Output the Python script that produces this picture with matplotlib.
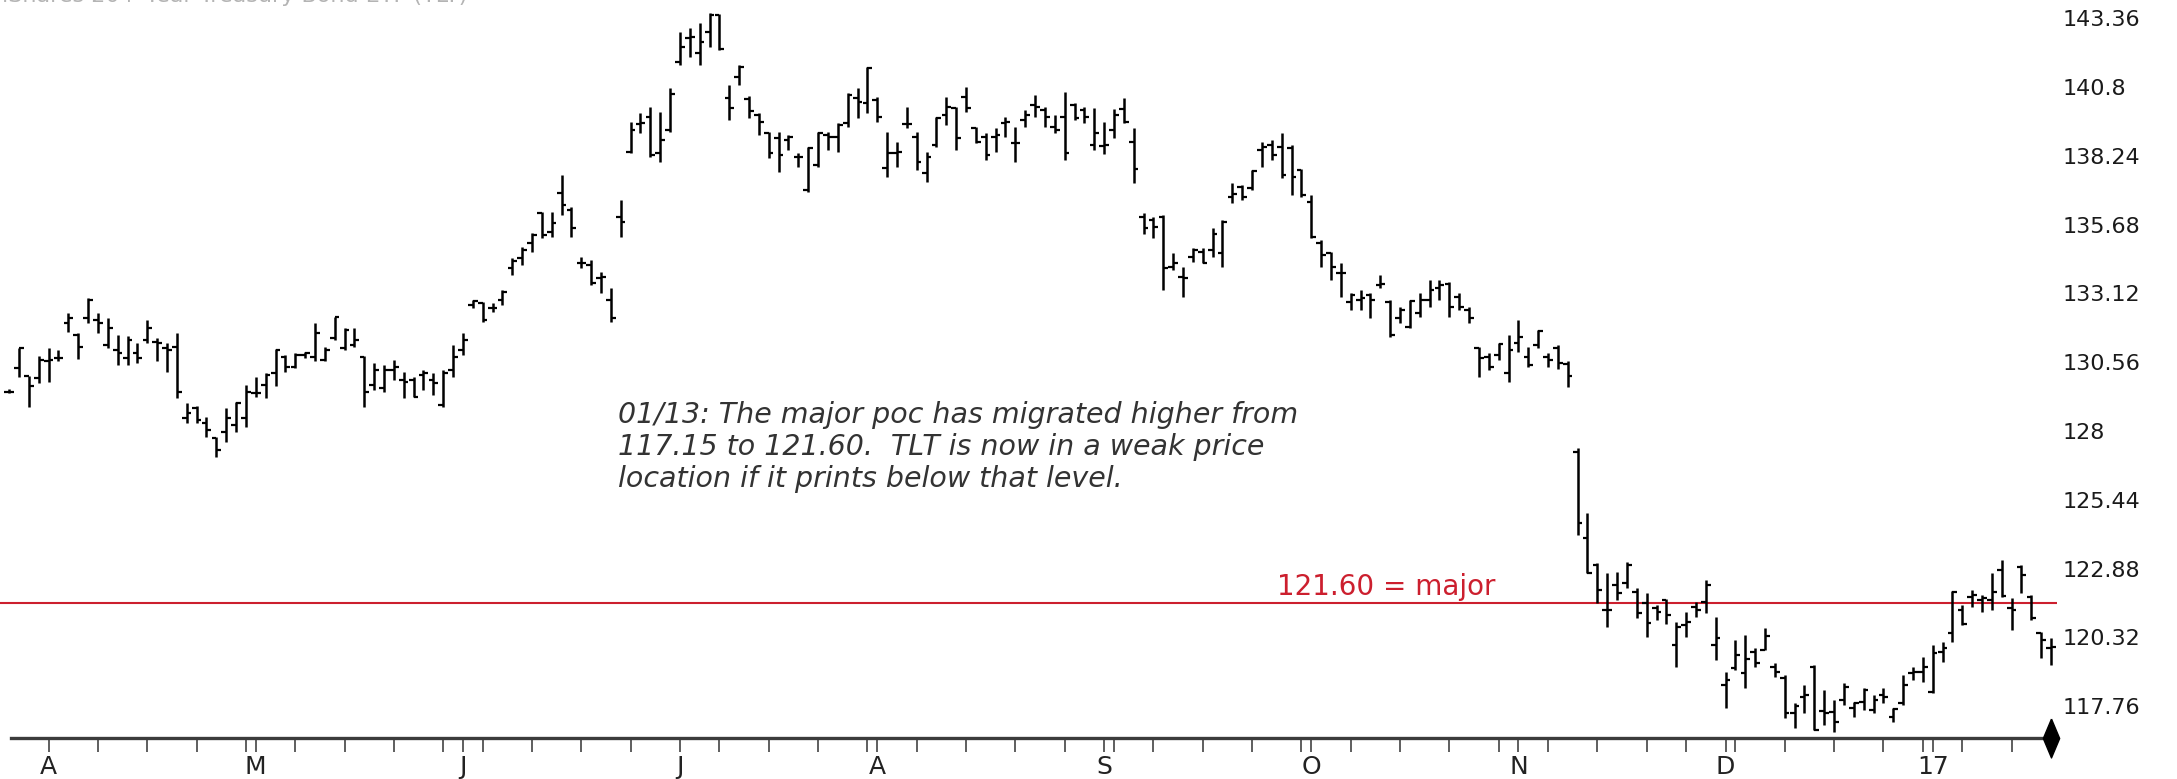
import matplotlib
matplotlib.use("Agg")
import matplotlib.pyplot as plt
import numpy as np
import pandas as pd
from matplotlib import font_manager

# ---------------------------------------------------------------------------
# TLT daily bars, 28 Mar 2016 - 20 Jan 2017
# ---------------------------------------------------------------------------
HOLIDAYS = ["2016-05-30", "2016-07-04", "2016-09-05", "2016-11-24",
            "2016-12-26", "2017-01-02", "2017-01-16"]
START, END = "2016-03-28", "2017-01-20"

HIGHS = [129.55, 131.08, 130.05, 130.80, 131.08, 131.02, 132.38, 131.64, 132.94, 132.38,
         132.20, 131.58, 131.54, 131.27, 132.14, 131.45, 131.27, 131.64, 129.03, 128.94,
         128.54, 127.79, 128.85, 129.10, 129.72, 130.03, 130.15, 131.04, 130.83, 130.90,
         130.96, 132.01, 131.14, 132.26, 131.83, 131.83, 130.80, 130.52, 130.46, 130.65,
         130.21, 130.03, 130.27, 130.15, 130.27, 131.21, 131.64, 132.88, 132.82, 132.75,
         133.25, 134.43, 134.86, 135.36, 136.17, 136.17, 137.53, 136.35, 134.49, 134.37,
         133.93, 133.31, 136.60, 139.51, 139.82, 140.07, 139.89, 140.75, 142.86, 142.99,
         143.17, 143.54, 143.52, 140.88, 141.62, 140.45, 139.82, 139.14, 139.14, 139.02,
         138.33, 138.58, 139.14, 139.14, 139.45, 140.57, 140.75, 141.56, 140.44, 139.14,
         138.77, 140.07, 139.14, 138.40, 139.70, 140.44, 140.07, 140.82, 139.33, 139.08,
         139.27, 139.70, 139.33, 139.95, 140.51, 140.07, 139.76, 140.63, 140.19, 140.07,
         140.01, 139.50, 140.00, 140.38, 139.26, 136.10, 135.97, 136.04, 134.61, 134.11,
         134.80, 134.80, 135.54, 135.85, 137.22, 137.15, 137.71, 138.77, 138.83, 139.08,
         138.64, 137.77, 136.78, 135.11, 134.67, 134.24, 133.12, 133.25, 133.12, 133.80,
         132.87, 132.63, 132.87, 133.12, 133.62, 133.62, 133.56, 133.12, 132.63, 131.12,
         130.89, 131.27, 131.58, 132.13, 131.14, 131.76, 130.89, 131.20, 130.60, 127.36,
         124.94, 123.08, 122.71, 122.77, 123.14, 122.15, 121.96, 121.53, 121.77, 120.91,
         121.28, 121.65, 122.46, 121.09, 119.05, 120.22, 120.41, 119.92, 120.66, 119.36,
         118.92, 117.87, 118.55, 119.29, 118.37, 117.99, 118.61, 117.93, 118.43, 118.18,
         118.43, 117.68, 118.92, 119.23, 119.61, 120.04, 120.16, 122.06, 121.53, 122.08,
         121.90, 122.71, 123.20, 121.78, 123.02, 121.90, 120.54, 120.29]

LOWS = [129.40, 130.03, 128.91, 129.78, 129.84, 130.59, 131.70, 130.67, 132.01, 131.64,
        131.08, 130.46, 130.46, 130.52, 131.27, 130.59, 130.21, 129.22, 128.29, 128.29,
        127.79, 127.05, 127.61, 127.98, 128.17, 129.28, 129.22, 129.66, 130.21, 130.34,
        130.71, 130.59, 130.59, 131.39, 131.02, 131.14, 128.91, 129.53, 129.47, 129.90,
        129.22, 129.28, 129.53, 129.34, 128.91, 130.03, 130.83, 132.57, 132.07, 132.44,
        132.69, 133.81, 134.18, 134.68, 135.17, 135.24, 136.04, 135.24, 134.06, 133.44,
        133.13, 132.07, 135.24, 138.33, 139.08, 138.21, 138.02, 139.14, 141.62, 141.93,
        141.62, 142.30, 142.18, 139.57, 140.88, 139.65, 139.02, 138.15, 137.65, 138.46,
        137.84, 136.91, 137.84, 138.46, 138.40, 139.33, 139.64, 139.82, 139.51, 137.47,
        137.84, 139.27, 137.71, 137.28, 138.58, 139.39, 138.46, 139.89, 138.71, 138.09,
        138.40, 138.96, 138.02, 139.33, 139.70, 139.33, 139.08, 138.09, 139.57, 139.45,
        138.46, 138.30, 138.90, 139.45, 137.22, 135.35, 135.17, 133.25, 133.99, 133.00,
        134.30, 134.24, 134.49, 134.11, 136.47, 136.59, 136.97, 137.84, 138.08, 137.40,
        136.78, 136.72, 135.17, 134.11, 133.62, 133.00, 132.50, 132.50, 132.19, 133.31,
        131.51, 132.01, 131.82, 132.25, 132.63, 132.87, 132.25, 132.50, 132.01, 130.02,
        130.27, 130.65, 129.84, 130.96, 130.40, 131.08, 130.40, 130.30, 129.65, 124.13,
        122.71, 121.59, 120.72, 121.71, 122.15, 121.03, 120.35, 120.97, 120.84, 119.23,
        120.35, 121.09, 121.22, 119.48, 117.68, 119.11, 118.43, 119.23, 119.85, 118.86,
        117.31, 116.94, 117.50, 116.88, 117.06, 116.81, 117.81, 117.37, 117.62, 117.50,
        117.87, 117.19, 117.81, 118.74, 118.67, 118.24, 119.42, 120.16, 120.78, 121.46,
        121.28, 121.34, 121.84, 120.60, 121.96, 120.97, 119.54, 119.30]

OPENS = [129.47, 130.34, 130.05, 129.97, 130.59, 130.71, 132.01, 131.58, 132.20, 132.14,
         131.21, 131.02, 130.71, 130.90, 131.39, 131.33, 131.08, 131.14, 128.48, 128.85,
         128.29, 127.73, 127.98, 128.23, 128.48, 129.41, 129.72, 130.15, 130.77, 130.40,
         130.83, 130.77, 130.65, 131.45, 131.08, 131.21, 130.77, 129.72, 129.59, 130.27,
         129.90, 129.90, 130.09, 129.90, 128.97, 130.27, 131.02, 132.69, 132.75, 132.57,
         132.88, 134.06, 134.43, 134.99, 136.10, 135.42, 136.85, 136.23, 134.24, 134.18,
         133.69, 132.88, 135.98, 138.40, 139.43, 139.70, 138.33, 139.20, 141.75, 142.61,
         142.06, 142.86, 143.48, 140.38, 141.19, 140.35, 139.76, 139.08, 138.89, 138.83,
         138.21, 136.97, 137.90, 139.02, 138.96, 139.45, 140.38, 140.19, 140.32, 137.78,
         138.33, 139.43, 138.96, 137.59, 138.65, 139.76, 140.01, 140.44, 139.27, 138.96,
         138.96, 139.45, 138.71, 139.57, 140.13, 139.95, 139.33, 139.70, 140.13, 139.95,
         138.65, 138.60, 139.20, 140.00, 138.77, 135.97, 135.85, 135.97, 134.11, 133.74,
         134.49, 134.67, 134.73, 134.61, 136.72, 137.09, 137.03, 138.46, 138.64, 138.58,
         138.52, 137.71, 136.53, 134.98, 134.61, 133.87, 132.81, 132.87, 133.06, 133.43,
         132.81, 132.19, 131.88, 132.38, 132.87, 133.31, 133.49, 133.00, 132.50, 131.08,
         130.77, 130.83, 130.15, 131.27, 130.77, 131.20, 130.77, 131.08, 130.50, 127.23,
         124.01, 123.01, 121.34, 122.27, 122.33, 122.02, 121.59, 121.40, 121.71, 120.04,
         120.78, 121.46, 121.65, 120.04, 118.55, 119.17, 118.98, 119.79, 119.85, 119.23,
         118.80, 117.50, 118.12, 119.23, 117.60, 117.56, 117.99, 117.68, 117.93, 117.62,
         118.18, 117.37, 117.87, 118.98, 119.05, 118.30, 119.79, 120.47, 121.34, 121.84,
         121.71, 121.71, 122.83, 121.40, 122.95, 121.81, 120.47, 119.92]

CLOSES = [129.47, 131.08, 129.68, 130.65, 130.65, 130.71, 132.20, 131.14, 132.88, 132.01,
          131.83, 130.90, 131.39, 130.71, 131.83, 131.27, 131.02, 129.47, 128.69, 128.41,
          128.04, 127.30, 128.48, 129.03, 129.47, 129.41, 130.09, 131.02, 130.40, 130.83,
          130.90, 131.64, 131.02, 132.26, 131.76, 131.39, 129.47, 130.27, 130.27, 130.40,
          129.84, 129.28, 130.15, 129.78, 130.15, 130.77, 131.39, 132.85, 132.13, 132.57,
          133.19, 134.31, 134.74, 135.30, 135.30, 135.73, 136.41, 135.55, 134.24, 133.50,
          133.75, 132.20, 135.79, 139.20, 139.45, 138.27, 138.83, 140.54, 142.30, 142.68,
          142.49, 143.48, 142.20, 140.01, 141.56, 139.90, 139.51, 138.34, 138.27, 138.93,
          138.21, 138.52, 139.08, 138.96, 139.39, 140.51, 140.26, 141.50, 139.70, 138.33,
          138.40, 139.43, 138.02, 138.21, 139.64, 140.07, 138.89, 140.01, 138.77, 138.27,
          139.02, 139.51, 138.71, 139.76, 140.07, 139.70, 139.20, 138.33, 139.64, 139.70,
          139.08, 138.65, 139.75, 139.51, 137.77, 135.54, 135.60, 134.05, 134.24, 133.68,
          134.73, 134.26, 135.35, 135.79, 136.84, 136.72, 137.69, 138.58, 138.27, 137.53,
          137.46, 136.78, 135.23, 134.55, 134.11, 133.87, 133.06, 132.94, 132.87, 133.49,
          131.57, 132.50, 132.85, 132.87, 133.25, 133.43, 132.63, 132.63, 132.19, 130.71,
          130.40, 131.24, 131.02, 131.51, 130.46, 131.74, 130.65, 130.55, 130.05, 124.57,
          122.71, 122.08, 121.34, 121.96, 123.01, 121.22, 120.87, 121.28, 121.15, 120.72,
          120.91, 121.34, 122.27, 120.29, 118.74, 119.67, 119.51, 119.36, 120.37, 119.05,
          117.50, 117.77, 118.18, 116.88, 117.50, 117.19, 118.49, 117.87, 118.36, 117.99,
          118.12, 117.65, 118.55, 119.05, 119.23, 119.73, 119.92, 122.02, 120.82, 121.90,
          121.78, 122.02, 121.86, 121.34, 122.64, 121.03, 120.22, 119.98]

PRICE_TICKS = [117.76, 120.32, 122.88, 125.44, 128.0, 130.56,
               133.12, 135.68, 138.24, 140.8, 143.36]
MONTH_LETTERS = "JFMAMJJASOND"

POC_LEVEL = 121.60
POC_LABEL = "121.60 = major"
NOTE = ("01/13: The major poc has migrated higher from\n"
        "117.15 to 121.60.  TLT is now in a weak price\n"
        "location if it prints below that level.")
TITLE = "iShares 20+ Year Treasury Bond ETF (TLT)"

# ---------------------------------------------------------------------------
dates = pd.bdate_range(START, END, freq="C", holidays=HOLIDAYS)
n = len(HIGHS)
x = np.arange(n)
dates = dates[:n]

# month starts (labelled) and week ends (plain ticks)
months = dates.to_period("M")
month_idx = [i for i in range(1, n) if months[i] != months[i - 1]]
month_lbl = [str(dates[i].year % 100) if dates[i].month == 1
             else MONTH_LETTERS[dates[i].month - 1] for i in month_idx]
weeks = dates.to_period("W")
week_idx = [i for i in range(n - 1) if weeks[i] != weeks[i + 1]]

available = {f.name for f in font_manager.fontManager.ttflist}
narrow = "Liberation Sans Narrow" if "Liberation Sans Narrow" in available else "DejaVu Sans"

W, H = 2177, 779
fig = plt.figure(figsize=(W / 100, H / 100), dpi=100)
fig.patch.set_facecolor("white")
ax = fig.add_axes([0.0, 41 / H, 2057 / W, 738 / H])

# OHLC bars: range line, open tick to the left, close tick to the right
half = 0.48
ax.vlines(x, LOWS, HIGHS, color="black", linewidth=1.8, zorder=3)
ax.hlines(OPENS, x - half, x, color="black", linewidth=1.6, zorder=3)
ax.hlines(CLOSES, x, x + half, color="black", linewidth=1.6, zorder=3)

ax.set_xlim(-0.93, 207.6)
ax.set_ylim(116.58, 144.04)

# reference level
ax.axhline(POC_LEVEL, color="#cc1f2e", linewidth=1.5, zorder=2)
ax.annotate(POC_LABEL, xy=(150.7, POC_LEVEL), xytext=(0, 1.5),
            textcoords="offset points", ha="right", va="bottom",
            color="#cc1f2e", fontsize=20, family="DejaVu Sans")

# note
fig.text(618 / W, 1 - 447 / H, NOTE, ha="left", va="center",
         fontsize=20.5, style="italic", color="#333333",
         family="DejaVu Sans", linespacing=1.2)

# faint title, mostly above the top edge
fig.text(2 / W, 1 - 2 / H, TITLE, ha="left", va="baseline",
         fontsize=16, color="#b4b4b4", family="DejaVu Sans")

# spines
for side in ("top", "left", "right"):
    ax.spines[side].set_visible(False)
ax.spines["bottom"].set_color("#3c3c3c")
ax.spines["bottom"].set_linewidth(2.4)
ax.spines["bottom"].set_bounds(0.18, 207.5)

# x ticks
ax.set_xticks(month_idx)
ax.set_xticklabels(month_lbl)
ax.set_xticks(week_idx, minor=True)
ax.tick_params(axis="x", which="both", direction="out", length=10,
               width=1.1, color="#333333")
ax.tick_params(axis="x", which="major", pad=2,
               labelsize=22 if narrow != "DejaVu Sans" else 18)
for t in ax.get_xticklabels():
    t.set_family(narrow)
    t.set_color("#222222")

# price scale on the right
ax.yaxis.tick_right()
ax.set_yticks(PRICE_TICKS)
ax.set_yticklabels([f"{v:g}" for v in PRICE_TICKS])
ax.tick_params(axis="y", which="both", length=0, pad=4, labelsize=16,
               labelcolor="#1a1a1a", left=False, right=True)

# end-of-data marker on the time axis
diamond = [(0, 1), (0.42, 0), (0, -1), (-0.42, 0), (0, 1)]
ax.plot([x[-1]], [116.58], marker=diamond, markersize=28, color="black",
        clip_on=False, zorder=5, linestyle="none")

fig.savefig("out.png", dpi=100, facecolor="white")
